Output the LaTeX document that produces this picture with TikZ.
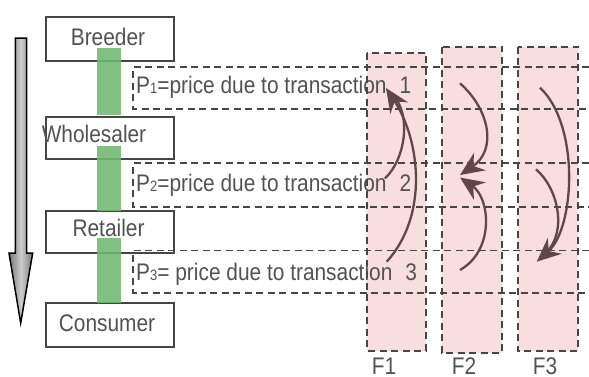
\documentclass[tikz,border=0pt]{standalone}
\usepackage{fontspec}
\setmainfont{Liberation Sans}[FakeStretch=0.87]
\usetikzlibrary{arrows.meta}
\definecolor{txtgray}{RGB}{82,82,82}
\definecolor{linegray}{RGB}{70,70,70}
\definecolor{colpink}{RGB}{248,222,222}
\definecolor{flowgreen}{RGB}{111,184,111}
\definecolor{curvebrown}{RGB}{96,72,72}
\definecolor{shaftdark}{RGB}{120,120,120}
\definecolor{shaftlight}{RGB}{205,205,205}
\tikzset{
  stagebox/.style={draw=linegray, line width=1.8pt, fill=white, inner sep=0pt},
  stagelbl/.style={anchor=base, text=txtgray, inner sep=0pt, font=\fontsize{24}{24}\selectfont},
  pricelbl/.style={anchor=base west, text=txtgray, inner sep=0pt, font=\fontsize{24}{24}\selectfont},
  flbl/.style={anchor=base, text=txtgray, inner sep=0pt, text depth=0pt, font=\fontsize{24}{24}\selectfont},
  dashline/.style={draw=linegray, line width=1.9pt, dash pattern=on 7pt off 4.5pt},
  greenbar/.style={fill=flowgreen, fill opacity=0.88},
  flowcurve/.style={draw=curvebrown, line width=2.3pt},
  flowtip/.style={-{Stealth[length=24pt, width=21pt, inset=8pt]}},
}
\newcommand{\sdig}[1]{{\fontsize{15}{15}\selectfont #1}}
\begin{document}
\begin{tikzpicture}[x=1pt, y=-1pt]
\useasboundingbox (0,0) rectangle (589,376);

% pink columns
\fill[colpink] (367.3,52.7) rectangle (426,350.7);
\fill[colpink] (441.7,46.7) rectangle (502.3,352.7);
\fill[colpink] (517.7,46.7) rectangle (578.3,350.7);

% downward chain arrow
\draw[line width=1.5pt, draw=black, left color=shaftdark, right color=shaftdark, middle color=shaftlight]
  (15.3,38) -- (26.7,38) -- (26.7,253) -- (32.7,253) -- (20.7,323) -- (9,253) -- (15.3,253) -- cycle;

% stage boxes
\node[stagebox, minimum width=128.6pt, minimum height=44.3pt] (breeder)    at (110,38.85) {};
\node[stagebox, minimum width=128.6pt, minimum height=42.3pt] (wholesaler) at (110,137.85) {};
\node[stagebox, minimum width=128.6pt, minimum height=41.7pt] (retailer)   at (110,231.85) {};
\node[stagebox, minimum width=128.6pt, minimum height=44pt]   (consumer)   at (110,324.7) {};

% green links between stages
\fill[greenbar] (97,48) rectangle (120.7,115);
\fill[greenbar] (97,145.7) rectangle (120.7,211);
\fill[greenbar] (97,238) rectangle (120.7,303);

% stage names
\node[stagelbl] (tbreeder)    at (108,45.5)   {Breeder};
\node[stagelbl] (twholesaler) at (94,142.5)   {Wholesaler};
\node[stagelbl] (tretailer)   at (108.5,236.5){Retailer};
\node[stagelbl] (tconsumer)   at (107,331.5)  {Consumer};

% price bands
\draw[dashline] (589,66.7) -- (133.3,66.7) -- (133.3,108.7) -- (589,108.7);
\draw[dashline] (589,163) -- (133.3,163) -- (133.3,206.7) -- (589,206.7);
\draw[dashline] (589,250.5) -- (133.3,250.5) -- (133.3,293) -- (589,293);
\node[pricelbl] (p1) at (136,93.3)  {P\sdig{1}=price due to transaction\hspace{13pt}1};
\node[pricelbl] (p2) at (136,191.7) {P\sdig{2}=price due to transaction\hspace{13pt}2};
\node[pricelbl] (p3) at (136,280)   {P\sdig{3}= price due to transaction\hspace{13pt}3};

% column outlines
\draw[dashline] (367.3,52.7) rectangle (426,350.7);
\draw[dashline] (441.7,46.7) rectangle (502.3,352.7);
\draw[dashline] (517.7,46.7) rectangle (578.3,350.7);

% flow curves
\coordinate (f1tip) at (386,88);
\coordinate (f1a) at (386.7,261.7);
\coordinate (f1b) at (385,178.3);
\draw[flowcurve, flowtip] (f1a) .. controls (429,215) and (420,140) .. (f1tip);
\draw[flowcurve, shorten >=10pt] (f1b) .. controls (405,160) and (412,115) .. (f1tip);

\coordinate (f2tipa) at (460,175);
\coordinate (f2tipb) at (460,177.5);
\coordinate (f2a) at (460,83.3);
\coordinate (f2b) at (460,270);
\draw[flowcurve, flowtip] (f2a) .. controls (490,110) and (497,150) .. (f2tipa);
\draw[flowcurve, flowtip] (f2b) .. controls (495,250) and (490,198) .. (f2tipb);

\coordinate (f3tip) at (536.7,261.7);
\coordinate (f3a) at (540,87.7);
\coordinate (f3b) at (536,169.3);
\draw[flowcurve, flowtip] (f3a) .. controls (580,125) and (575,228) .. (f3tip);
\draw[flowcurve, shorten >=12pt] (f3b) .. controls (558,188) and (568,232) .. (f3tip);

% column labels
\node[flbl] (lf1) at (384,374.5) {F1};
\node[flbl] (lf2) at (464,374.5) {F2};
\node[flbl] (lf3) at (545,374.5) {F3};
\end{tikzpicture}
\end{document}
